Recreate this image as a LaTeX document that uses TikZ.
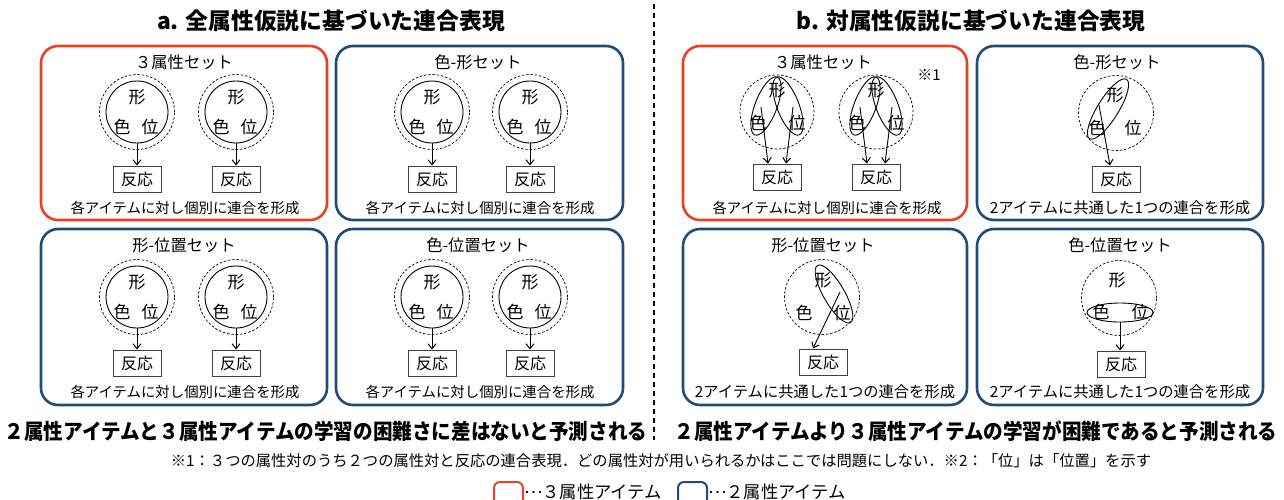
\documentclass[tikz,border=0pt]{standalone}
\usepackage{fontspec}
\usepackage{graphicx}
\setmainfont{Noto Sans CJK JP}
\usetikzlibrary{arrows.meta,shapes.geometric}
\definecolor{pred}{RGB}{232,66,38}
\definecolor{pblue}{RGB}{32,76,122}
\newcommand\myfs[1]{\fontsize{#1}{#1}\selectfont}
\tikzset{
  panelR/.style={draw=pred,line width=2.6pt,rounded corners=17pt},
  panelB/.style={draw=pblue,line width=2.6pt,rounded corners=17pt},
  htitle/.style={font=\myfs{22.8}\bfseries,inner sep=0pt},
  hconc/.style={font=\myfs{21.3}\bfseries,inner sep=0pt},
  ptitle/.style={font=\myfs{16.3},inner sep=0pt},
  pfootA/.style={font=\myfs{14.4},inner sep=0pt},
  pfootB/.style={font=\myfs{15.3},inner sep=0pt},
  attr/.style={font=\myfs{17},inner sep=0pt},
  dcirc/.style={circle,draw,dashed,dash pattern=on 2.5pt off 1.8pt,line width=0.7pt,minimum size=75pt,inner sep=0pt},
  scirc/.style={circle,draw,line width=0.9pt,minimum size=62pt,inner sep=0pt},
  pell/.style={ellipse,draw,line width=0.9pt,inner sep=0pt},
  resp/.style={draw=black!75,line width=1pt,minimum width=48pt,minimum height=26pt,inner sep=0pt,font=\myfs{16}},
  arr/.style={-{Straight Barb[length=5pt,width=8pt,line width=1pt]},line width=0.9pt},
  note/.style={font=\myfs{15.3},inner sep=0pt},
  legend/.style={font=\myfs{17.3},inner sep=0pt,anchor=west}
}
% circle with three attributes (section a)
\newcommand\acirc[4]{%
  \node[dcirc] (#1d) at (#2,#3) {};
  \node[scirc] (#1s) at (#2,#3) {};
  \node[attr] (#1f) at ({#2},{#3-15}) {形};
  \node[attr] (#1c) at ({#2-15},{#3+15}) {色};
  \node[attr] (#1p) at ({#2+13},{#3+15}) {位};
  \node[resp] (#1r) at ({#2},{#4}) {反応};
  \draw[arr] (#1s.south) -- (#1r.north);
}
% three pairs circle (section b, 3 attributes)
\newcommand\bcirc[3]{%
  \node[dcirc,minimum size=74pt] (#1d) at (#2,#3) {};
  \node[pell,minimum width=62pt,minimum height=22pt,rotate=69] (#1el) at ({#2-11},{#3-6}) {};
  \node[pell,minimum width=62pt,minimum height=22pt,rotate=111] (#1er) at ({#2+11},{#3-6}) {};
  \node[attr] (#1f) at ({#2},{#3-22}) {形};
  \node[attr] (#1c) at ({#2-19},{#3+11}) {色};
  \node[attr] (#1p) at ({#2+20},{#3+11}) {位};
  \node[resp] (#1r) at ({#2},{#3+65}) {反応};
  \coordinate (#1sl) at ({#2-16},{#3-5});
  \coordinate (#1sr) at ({#2+16},{#3-5});
  \draw[arr] (#1sl) -- ([xshift=-9pt]#1r.north);
  \draw[arr] (#1sr) -- ([xshift=9pt]#1r.north);
}
\begin{document}
\begin{tikzpicture}[x=1pt,y=-1pt]
\useasboundingbox (0,0) rectangle (1284,499);
\clip (0,0) rectangle (1284,499);

% headings
\node[htitle] (ta) at (331,21) {a. 全属性仮説に基づいた連合表現};
\node[htitle] (tb) at (971,21) {b. 対属性仮説に基づいた連合表現};

% divider
\draw[dash pattern=on 5pt off 4pt,line width=1.4pt] (654,4) -- (654,440);

% ---------- section a ----------
\draw[panelR] (41,46) rectangle (327,220);
\draw[panelB] (336,46) rectangle (623,220);
\draw[panelB] (41,229) rectangle (327,405);
\draw[panelB] (336,229) rectangle (623,405);

\node[ptitle] (a1t) at (184,62) {３属性セット};
\node[ptitle] (a2t) at (478,62) {色-形セット};
\node[ptitle] (a3t) at (184,245) {形-位置セット};
\node[ptitle] (a4t) at (478,245) {色-位置セット};

\acirc{a1x}{137}{112}{179}
\acirc{a1y}{236}{112}{179}
\acirc{a2x}{432}{112}{179}
\acirc{a2y}{530}{112}{179}
\acirc{a3x}{137}{297}{363}
\acirc{a3y}{236}{297}{363}
\acirc{a4x}{432}{297}{363}
\acirc{a4y}{530}{297}{363}

\node[pfootA] (a1b) at (185,208) {各アイテムに対し個別に連合を形成};
\node[pfootA] (a2b) at (480,208) {各アイテムに対し個別に連合を形成};
\node[pfootA] (a3b) at (185,392) {各アイテムに対し個別に連合を形成};
\node[pfootA] (a4b) at (480,392) {各アイテムに対し個別に連合を形成};

% ---------- section b ----------
\draw[panelR] (683,46) rectangle (967,220);
\draw[panelB] (977,46) rectangle (1263,220);
\draw[panelB] (683,229) rectangle (967,405);
\draw[panelB] (977,229) rectangle (1263,405);

\node[ptitle] (b1t) at (823,62) {３属性セット};
\node[ptitle] (b2t) at (1117,62) {色-形セット};
\node[ptitle] (b3t) at (823,245) {形-位置セット};
\node[ptitle] (b4t) at (1120,245) {色-位置セット};

\bcirc{b1x}{777}{112}
\bcirc{b1y}{876}{112}
\node[font=\myfs{15},inner sep=0pt] (n1) at (929,75) {※1};

% colour-shape pair
\node[dcirc] (b2d) at (1116,113) {};
\node[pell,minimum width=70pt,minimum height=21pt,rotate=58] (b2e) at (1108,109) {};
\node[attr] (b2f) at (1115,95) {形};
\node[attr] (b2c) at (1097,128) {色};
\node[attr] (b2p) at (1133,128) {位};
\node[resp] (b2r) at (1116,179) {反応};
\coordinate (b2s) at (1099,105);
\draw[arr] (b2s) -- ([xshift=-6pt]b2r.north);

% shape-position pair
\node[dcirc] (b3d) at (822,297) {};
\node[pell,minimum width=66pt,minimum height=21pt,rotate=-60] (b3e) at (834,294) {};
\node[attr] (b3f) at (823,280) {形};
\node[attr] (b3c) at (804,313) {色};
\node[attr] (b3p) at (842,313) {位};
\node[resp] (b3r) at (823,362) {反応};
\coordinate (b3s) at (840,292);
\draw[arr] (b3s) -- ([xshift=-10pt]b3r.north);

% colour-position pair
\node[dcirc] (b4d) at (1119,298) {};
\node[pell,minimum width=66pt,minimum height=19pt] (b4e) at (1120,312.5) {};
\node[attr] (b4f) at (1117,280) {形};
\node[attr] (b4c) at (1101,312) {色};
\node[attr] (b4p) at (1140,312) {位};
\node[resp] (b4r) at (1121,364) {反応};
\draw[arr] (b4e.south) -- (b4e.south |- b4r.north);

\node[pfootA] (b1b) at (827,208) {各アイテムに対し個別に連合を形成};
\node[pfootB] (b2b) at (1120,208) {2アイテムに共通した1つの連合を形成};
\node[pfootB] (b3b) at (825,392) {2アイテムに共通した1つの連合を形成};
\node[pfootB] (b4b) at (1120,392) {2アイテムに共通した1つの連合を形成};

% conclusions
\node[hconc] (ca) at (326,431) {\scalebox{0.92}[1]{２属性アイテムと３属性アイテムの学習の困難さに差はないと予測される}};
\node[hconc] (cb) at (976,431) {\scalebox{0.92}[1]{２属性アイテムより３属性アイテムの学習が困難であると予測される}};

% note
\node[note] (nt) at (661,461) {※1：３つの属性対のうち２つの属性対と反応の連合表現．どの属性対が用いられるかはここでは問題にしない．※2：「位」は「位置」を示す};

% legend
\draw[draw=pred,line width=2pt,rounded corners=6pt] (494,482) rectangle (523,512);
\node[legend] (l1) at (524,492) {\raisebox{0.3em}{…}３属性アイテム};
\draw[draw=pblue,line width=2pt,rounded corners=6pt] (678,482) rectangle (707,512);
\node[legend] (l2) at (708,492) {\raisebox{0.3em}{…}２属性アイテム};
\end{tikzpicture}
\end{document}
